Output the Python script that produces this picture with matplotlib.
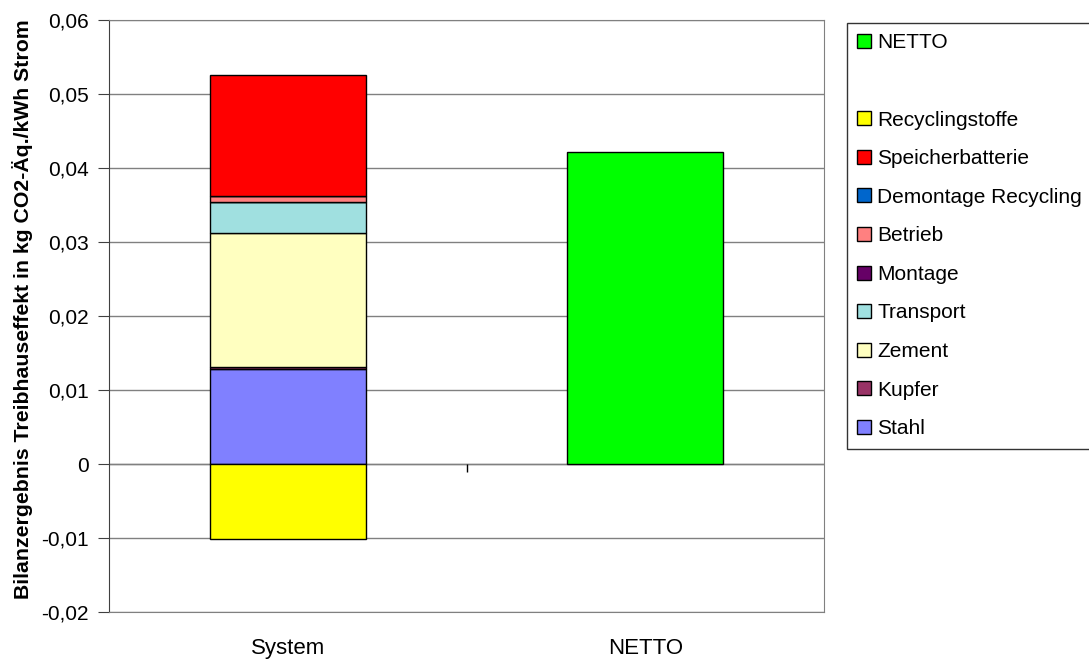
import matplotlib
matplotlib.use("Agg")
import matplotlib.pyplot as plt
from matplotlib.patches import Patch

plt.rcParams['font.family'] = ['Liberation Sans', 'DejaVu Sans']

categories = ['System', 'NETTO']

# stacked contributions of the system bar (bottom to top)
components = ['Stahl', 'Kupfer', 'Zement', 'Transport', 'Montage',
              'Betrieb', 'Demontage Recycling', 'Speicherbatterie']
component_values = [0.0128, 0.0003, 0.0181, 0.0042, 0.00005,
                    0.0007, 0.00005, 0.0163]
component_colors = ['#8080FF', '#993366', '#FFFFC0', '#A0E0E0', '#660066',
                    '#FF8080', '#0066CC', '#FF0000']

recycling_value = -0.0102
netto_value = 0.0422

y_ticks = [-0.02, -0.01, 0, 0.01, 0.02, 0.03, 0.04, 0.05, 0.06]
y_tick_labels = ['-0,02', '-0,01', '0', '0,01', '0,02', '0,03', '0,04', '0,05', '0,06']

fig = plt.figure(figsize=(10.89, 6.61), dpi=100)
ax = fig.add_axes([109 / 1089, 1 - 612 / 661, 715 / 1089, 592 / 661])

x = [0, 1]
width = 0.436
edge = dict(edgecolor='black', linewidth=1.0, zorder=3)

bottom = 0.0
handles = {}
for name, val, col in zip(components, component_values, component_colors):
    handles[name] = ax.bar(x[0], val, width, bottom=bottom, color=col, **edge)
    bottom += val
handles['Recyclingstoffe'] = ax.bar(x[0], recycling_value, width, color='#FFFF00', **edge)
handles['NETTO'] = ax.bar(x[1], netto_value, width, color='#00FF00', **edge)

ax.set_xlim(-0.5, 1.5)
ax.set_ylim(-0.02, 0.06)
ax.set_yticks(y_ticks)
ax.set_yticklabels(y_tick_labels, fontsize=15)
ax.yaxis.grid(True, color='#808080', linewidth=1.0, zorder=0)
ax.set_axisbelow(True)
ax.tick_params(axis='y', direction='out', length=8, color='#404040', pad=6.5)

ax.set_xticks(x)
ax.set_xticklabels(categories, fontsize=16)
ax.tick_params(axis='x', length=0, pad=19)

# category axis at zero with a divider tick between the categories
ax.axhline(0, color='#808080', linewidth=1.0, zorder=2)
ax.vlines(0.5, -0.0011, 0, color='black', linewidth=1.0, zorder=2)

for side in ['top', 'bottom', 'right']:
    ax.spines[side].set_color('#808080')
ax.spines['left'].set_color('#404040')

ax.set_ylabel('Bilanzergebnis Treibhauseffekt in kg CO2-Äq./kWh Strom',
              fontsize=15.3, fontweight='bold')
ax.yaxis.set_label_coords(-0.106, 0.512)

legend_order = ['NETTO', None, 'Recyclingstoffe', 'Speicherbatterie',
                'Demontage Recycling', 'Betrieb', 'Montage', 'Transport',
                'Zement', 'Kupfer', 'Stahl']
leg_handles = []
leg_labels = []
for name in legend_order:
    if name is None:
        leg_handles.append(Patch(facecolor='none', edgecolor='none'))
        leg_labels.append(' ')
    else:
        bar = handles[name].patches[0]
        leg_handles.append(Patch(facecolor=bar.get_facecolor(), edgecolor='black', linewidth=1.0))
        leg_labels.append(name)

leg = fig.legend(leg_handles, leg_labels, loc='upper left',
                 bbox_to_anchor=(847 / 1089, 1 - 23 / 661),
                 fontsize=15, frameon=True, fancybox=False, edgecolor='black',
                 handlelength=0.65, handleheight=0.65, handletextpad=0.29,
                 labelspacing=0.94, borderpad=0.5, borderaxespad=0)
leg.get_frame().set_linewidth(1.0)

fig.savefig('out.png', dpi=100)
